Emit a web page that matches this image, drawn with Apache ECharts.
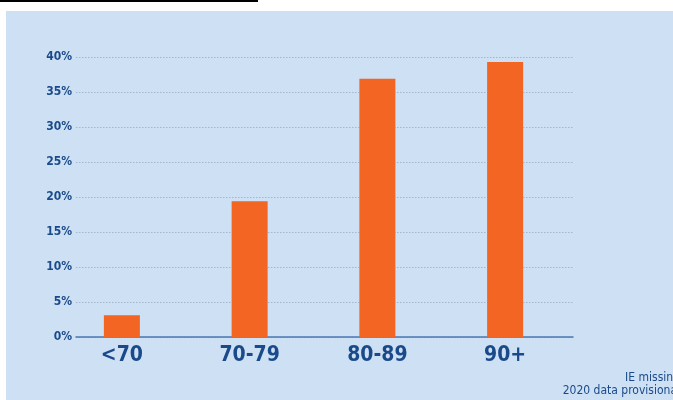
<!DOCTYPE html>
<html><head><meta charset="utf-8">
<script src="https://cdn.jsdelivr.net/npm/echarts@6/dist/echarts.min.js"></script>
<style>html,body{margin:0;padding:0;background:#fff}#c{width:673px;height:400px}</style>
</head><body><div id="c"></div>
<script>
const categories = ['<70', '70-79', '80-89', '90+'];
const values = [3.1, 19.4, 36.9, 39.3];
const yTicks = { min: 0, max: 40, interval: 5 };
const notes = ['IE missing', '2020 data provisional'];

const FONT = "'Liberation Sans Narrow', 'DejaVu Sans Condensed', 'Roboto Condensed', sans-serif";
const DARK = '#1b4a8a';
const chart = echarts.init(document.getElementById('c'));
chart.setOption({
  backgroundColor: '#ffffff',
  animation: false,
  graphic: [
    { type: 'rect', z: -10, shape: { x: 6, y: 11, width: 667, height: 389 }, style: { fill: '#cde0f4' } },
    { type: 'rect', z: -10, shape: { x: 0, y: 0, width: 258, height: 2 }, style: { fill: '#000' } },
    { type: 'text', right: -7, top: 372, style: { text: notes[0], font: "12px " + FONT, fill: DARK, textAlign: 'right' } },
    { type: 'text', right: -7, top: 385, style: { text: notes[1], font: "12px " + FONT, fill: DARK, textAlign: 'right' } }
  ],
  grid: [
    { left: 76, right: 100, top: 57, bottom: 63 },
    { left: 58, right: 104, top: 57, bottom: 63 }
  ],
  xAxis: [
    { gridIndex: 0, type: 'category', data: categories,
      axisLine: { show: true, lineStyle: { color: '#4b78b3', width: 1.5 } },
      axisTick: { show: false }, axisLabel: { show: false } },
    { gridIndex: 1, type: 'category', data: categories,
      axisLine: { show: false }, axisTick: { show: false },
      axisLabel: { color: DARK, fontFamily: FONT, fontWeight: 'bold', fontSize: 21, margin: 8 } }
  ],
  yAxis: [
    { gridIndex: 0, type: 'value', min: yTicks.min, max: yTicks.max, interval: yTicks.interval,
      axisLine: { show: false }, axisTick: { show: false },
      axisLabel: { formatter: '{value}%', color: DARK, fontFamily: FONT, fontWeight: 'bold', fontSize: 12, margin: 4 },
      splitLine: { lineStyle: { color: '#a3b7cf', type: [1.5, 1.5], width: 1 } } },
    { gridIndex: 1, type: 'value', min: yTicks.min, max: yTicks.max, interval: yTicks.interval, show: false,
      splitLine: { show: false } }
  ],
  series: [{
    type: 'bar', xAxisIndex: 1, yAxisIndex: 1, data: values,
    barWidth: 36, itemStyle: { color: '#f26522' }, z: 3
  }]
});
</script></body></html>
